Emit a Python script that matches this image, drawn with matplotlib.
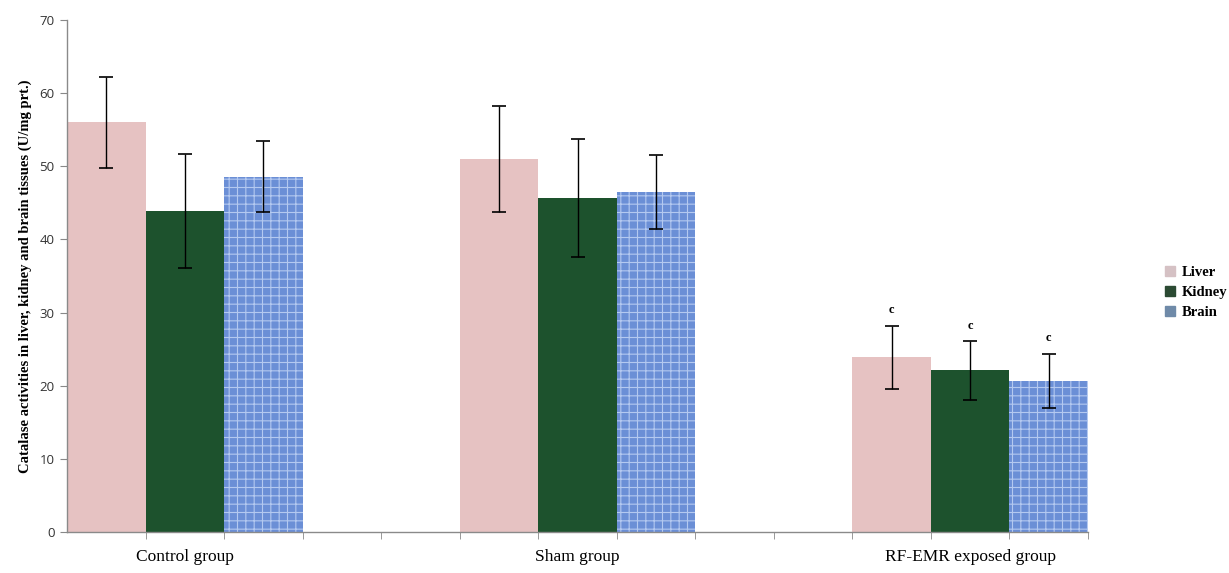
import matplotlib
matplotlib.use("Agg")
import matplotlib.pyplot as plt
from matplotlib.lines import Line2D

groups = ["Control group", "Sham group", "RF-EMR exposed group"]
tissues = ["Liver", "Kidney", "Brain"]
liver = [56.0, 51.0, 23.9]
kidney = [43.9, 45.7, 22.1]
brain = [48.6, 46.5, 20.7]
liver_err = [6.2, 7.3, 4.3]
kidney_err = [7.8, 8.1, 4.0]
brain_err = [4.8, 5.1, 3.7]
sig_labels = ["", "", "c"]

values = [liver, kidney, brain]
errors = [liver_err, kidney_err, brain_err]
colors = ["#e6c2c2", "#1d522d", "#6b8fd6"]
hatch_colors = [None, "#2f7042", "#b4c9f0"]
hatches = [None, None, "++"]
legend_colors = ["#d5c1c4", "#2b4a33", "#6f8aa8"]

plt.rcParams['hatch.linewidth'] = 0.8
fig = plt.figure(figsize=(12.29, 5.73), dpi=100)
ax = fig.add_axes([0.0545, 0.0716, 0.8308, 0.8934])

slot_gap = 5  # slots between group starts
for gi, g in enumerate(groups):
    for ti in range(len(tissues)):
        x = gi * slot_gap + ti
        v = values[ti][gi]
        e = errors[ti][gi]
        kw = dict(width=1.0, color=colors[ti], linewidth=0, zorder=2)
        if hatches[ti]:
            kw.update(hatch=hatches[ti], edgecolor=hatch_colors[ti])
        ax.bar(x, v, **kw)
        ax.errorbar(x, v, yerr=e, fmt="none", ecolor="black", elinewidth=1.0,
                    capsize=5, capthick=1.2, zorder=3)
        if sig_labels[gi]:
            ax.text(x, v + e + 1.3, sig_labels[gi], ha="center", va="bottom",
                    fontsize=9, fontweight="bold", family="Liberation Serif")

nslots = slot_gap * (len(groups) - 1) + len(tissues)
ax.set_xlim(-0.5, nslots - 0.5)
ax.set_ylim(0, 70)
ax.set_yticks(range(0, 71, 10))
ax.set_xticks([gi * slot_gap + 1 for gi in range(len(groups))])
ax.set_xticklabels(groups, family="Liberation Serif", fontsize=12.5)
ax.tick_params(axis="x", which="major", length=0, pad=12)
ax.set_xticks([k + 0.5 for k in range(nslots)], minor=True)
ax.tick_params(axis="x", which="minor", length=5, color="#888888", direction="out")
ax.tick_params(axis="y", length=5, color="#888888", labelsize=9.5, labelcolor="#333333", pad=4)
for lab in ax.get_yticklabels():
    lab.set_family("Open Sans")

for s in ["top", "right"]:
    ax.spines[s].set_visible(False)
for s in ["left", "bottom"]:
    ax.spines[s].set_color("#8a8a8a")
    ax.spines[s].set_linewidth(1.0)

ax.set_ylabel("Catalase activities in liver, kidney and brain tissues (U/mg prt.)",
              family="Liberation Serif", fontweight="bold", fontsize=10.5, labelpad=5)

handles = [Line2D([0], [0], marker="s", linestyle="none", markersize=6.5,
                  markerfacecolor=c, markeredgecolor=c) for c in legend_colors]
fig.legend(handles, tissues, loc="center left", bbox_to_anchor=(0.9475, 0.49),
           frameon=False, prop={"family": "Liberation Serif", "weight": "bold", "size": 10.5},
           handletextpad=0.35, labelspacing=0.45, borderaxespad=0, handlelength=0.8,
           borderpad=0)

fig.savefig("out.png", dpi=100)
